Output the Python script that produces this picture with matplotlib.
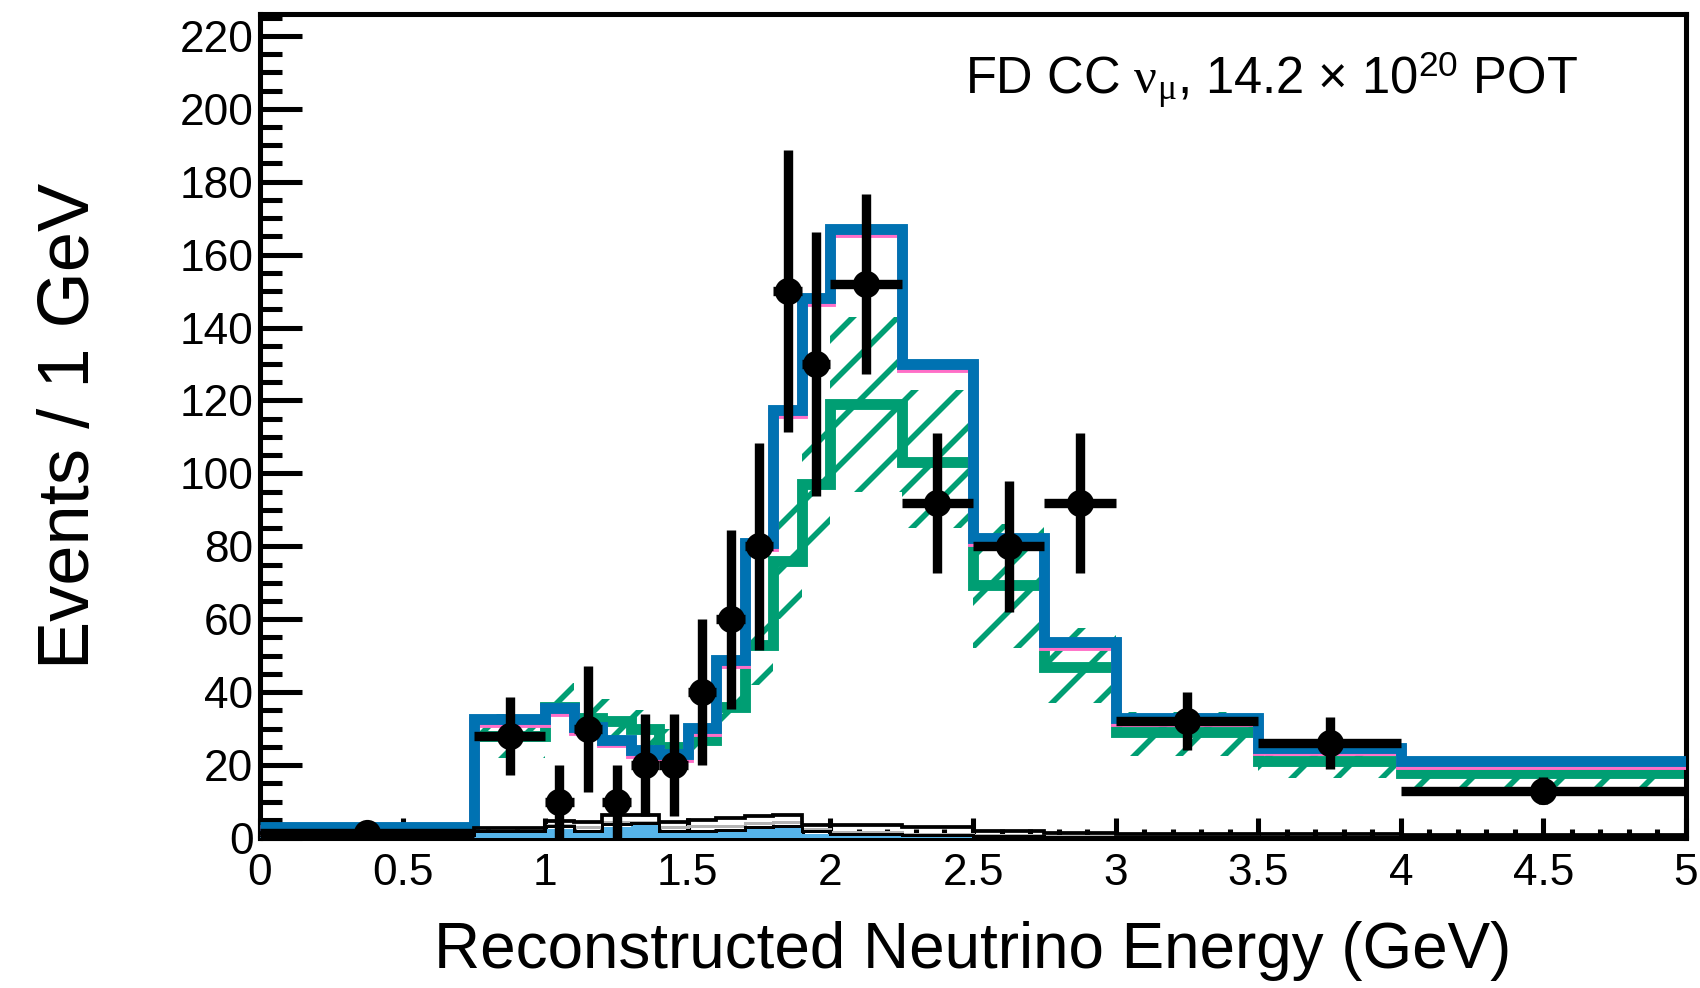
import numpy as np
import matplotlib
matplotlib.use("Agg")
import matplotlib.pyplot as plt
from matplotlib.ticker import MultipleLocator, FixedLocator, FixedFormatter

# ---- binning (GeV) ----
bin_edges = [0.0, 0.75, 1.0, 1.1, 1.2, 1.3, 1.4, 1.5, 1.6, 1.7, 1.8, 1.9,
             2.0, 2.25, 2.5, 2.75, 3.0, 3.5, 4.0, 5.0]

# ---- observed data (events / 1 GeV) ----
data_x = [0.375, 0.875, 1.05, 1.15, 1.25, 1.35, 1.45, 1.55, 1.65, 1.75, 1.85,
          1.95, 2.125, 2.375, 2.625, 2.875, 3.25, 3.75, 4.5]
data_y = [1.33, 28, 10, 30, 10, 20, 20, 40, 60, 80, 150, 130, 152, 92, 80, 92,
          32, 26, 13]
data_yerr = [1.33, 10.6, 10, 17.3, 10, 14.1, 14.1, 20, 24.5, 28.3, 38.7, 36.1,
             24.7, 19.2, 17.9, 19.2, 8.0, 7.2, 3.6]
data_xerr = [0.375, 0.125, 0.05, 0.05, 0.05, 0.05, 0.05, 0.05, 0.05, 0.05, 0.05,
             0.05, 0.125, 0.125, 0.125, 0.125, 0.25, 0.25, 0.5]

# ---- predictions (events / 1 GeV) ----
best_fit = [3.0, 32.7, 35.7, 30.5, 27.0, 24.2, 23.0, 30.1, 48.8, 81.0, 117.5,
            148.0, 167.0, 130.0, 82.2, 53.8, 32.8, 24.8, 21.0]
alt_fit = [2.2, 31.9, 34.9, 29.7, 26.2, 23.4, 22.2, 29.3, 48.0, 80.2, 116.7,
           147.2, 166.1, 129.2, 81.4, 53.0, 32.0, 24.0, 20.2]
prefit = [2.0, 28.0, 36.0, 33.0, 32.0, 30.0, 25.0, 27.0, 36.0, 53.0, 76.0,
          97.0, 119.0, 103.0, 69.5, 47.0, 29.0, 21.2, 17.8]
prefit_lo = [1.5, 22.0, 30.5, 27.0, 26.0, 24.0, 20.0, 21.0, 28.0, 42.0, 60.0,
             78.0, 95.0, 85.0, 52.0, 37.0, 22.5, 16.5, 14.0]
prefit_hi = [2.5, 34.0, 42.5, 40.0, 38.0, 35.0, 30.0, 33.0, 44.0, 64.0, 92.0,
             116.0, 143.0, 123.0, 86.0, 57.5, 34.5, 25.5, 20.5]

# ---- backgrounds (events / 1 GeV) ----
bkg_total = [1.5, 2.7, 4.7, 4.3, 6.3, 6.3, 4.5, 5.0, 5.5, 6.0, 6.3, 3.6, 3.6,
             3.0, 1.9, 1.5, 1.2, 1.0, 0.8]
bkg_grey = [1.0, 2.0, 3.5, 3.0, 4.5, 4.5, 3.0, 3.3, 3.3, 4.0, 4.5, 2.5, 1.6,
            1.2, 0.8, 0.6, 0.5, 0.4, 0.3]
bkg_lower = [0.8, 1.8, 3.2, 2.0, 3.8, 4.2, 2.0, 2.0, 2.2, 3.0, 3.3, 1.8, 1.2,
             0.8, 0.5, 0.4, 0.3, 0.3, 0.2]
bkg_cosmic = [0.3, 1.4, 2.6, 1.4, 3.0, 3.5, 1.4, 1.4, 1.7, 2.4, 2.8, 1.2, 0.8,
              0.4, 0.3, 0.2, 0.2, 0.1, 0.1]

x_ticks = [0, 0.5, 1, 1.5, 2, 2.5, 3, 3.5, 4, 4.5, 5]
x_tick_labels = ["0", "0.5", "1", "1.5", "2", "2.5", "3", "3.5", "4", "4.5", "5"]
y_ticks = [0, 20, 40, 60, 80, 100, 120, 140, 160, 180, 200, 220]
y_tick_labels = [str(v) for v in y_ticks]

# ---- style ----
DPI = 135
W, H = 1700, 988
plt.rcParams["font.family"] = ["Liberation Sans", "DejaVu Sans"]
plt.rcParams["mathtext.fontset"] = "custom"
plt.rcParams["mathtext.rm"] = "Liberation Sans"
plt.rcParams["mathtext.sf"] = "Liberation Serif"
plt.rcParams["mathtext.it"] = "Liberation Serif:italic"
plt.rcParams["hatch.linewidth"] = 3.0

c_blue = "#0072b2"
c_green = "#009e73"
c_pink = "#ff6ec7"
c_sky = "#56b4e9"
c_grey = "#b4b4b4"

fig = plt.figure(figsize=(W / DPI, H / DPI), dpi=DPI)
ax_l, ax_r, ax_t, ax_b = 260, 1686, 14, 838
ax = fig.add_axes([ax_l / W, 1 - ax_b / H, (ax_r - ax_l) / W, (ax_b - ax_t) / H])

edges = np.array(bin_edges)

# systematic band on the pre-fit prediction
ax.stairs(prefit_hi, edges, baseline=prefit_lo, fill=True, facecolor="none",
          edgecolor=c_green, hatch="/", linewidth=0, zorder=1)
ax.stairs(prefit, edges, baseline=None, color=c_green, linewidth=5.8, zorder=2)
ax.stairs(alt_fit, edges, baseline=None, color=c_pink, linewidth=5.8, zorder=3)
ax.stairs(best_fit, edges, baseline=None, color=c_blue, linewidth=5.8, zorder=4)

# background components
ax.stairs(bkg_cosmic, edges, baseline=0, fill=True, color=c_sky, linewidth=0, zorder=5)
ax.stairs(bkg_grey, edges, baseline=None, color=c_grey, linewidth=1.6, zorder=5.1)
ax.stairs(bkg_lower, edges, baseline=None, color="black", linewidth=1.6, zorder=5.2)
ax.stairs(bkg_total, edges, baseline=None, color="black", linewidth=2.0, zorder=5.3)

# data
ax.errorbar(data_x, data_y, xerr=data_xerr, yerr=data_yerr, fmt="o",
            color="black", markersize=13.5, elinewidth=5.0, capsize=0, zorder=6)

ax.set_xlim(0, 5)
ax.set_ylim(0, 226)

ax.xaxis.set_major_locator(FixedLocator(x_ticks))
ax.xaxis.set_major_formatter(FixedFormatter(x_tick_labels))
ax.yaxis.set_major_locator(FixedLocator(y_ticks))
ax.yaxis.set_major_formatter(FixedFormatter(y_tick_labels))
ax.xaxis.set_minor_locator(MultipleLocator(0.1))
ax.yaxis.set_minor_locator(MultipleLocator(5))

ax.tick_params(axis="both", which="both", direction="in", width=2.7,
               top=False, right=False, labelsize=23.6, colors="black")
ax.tick_params(axis="y", which="major", length=22.4, pad=3.5)
ax.tick_params(axis="y", which="minor", length=11.7)
ax.tick_params(axis="x", which="major", length=10.7, pad=8)
ax.tick_params(axis="x", which="minor", length=4.8)
for s in ax.spines.values():
    s.set_linewidth(2.7)

ax.set_xlabel("Reconstructed Neutrino Energy (GeV)", fontsize=34, va="baseline")
ax.xaxis.set_label_coords(0.5, -(968 - ax_b) / (ax_b - ax_t))
ax.set_ylabel("Events / 1 GeV", fontsize=38.5, va="center")
ax.yaxis.set_label_coords((70 - ax_l) / (ax_r - ax_l), 0.5)

ax.text((1578 - ax_l) / (ax_r - ax_l), 1 - (94 - ax_t) / (ax_b - ax_t),
        r"FD CC $\mathsf{\nu}_{\mathsf{\mu}}$, 14.2 × 10$^{\mathrm{20}}$ POT",
        transform=ax.transAxes, ha="right", va="baseline", fontsize=27)

fig.savefig("out.png", dpi=DPI)
